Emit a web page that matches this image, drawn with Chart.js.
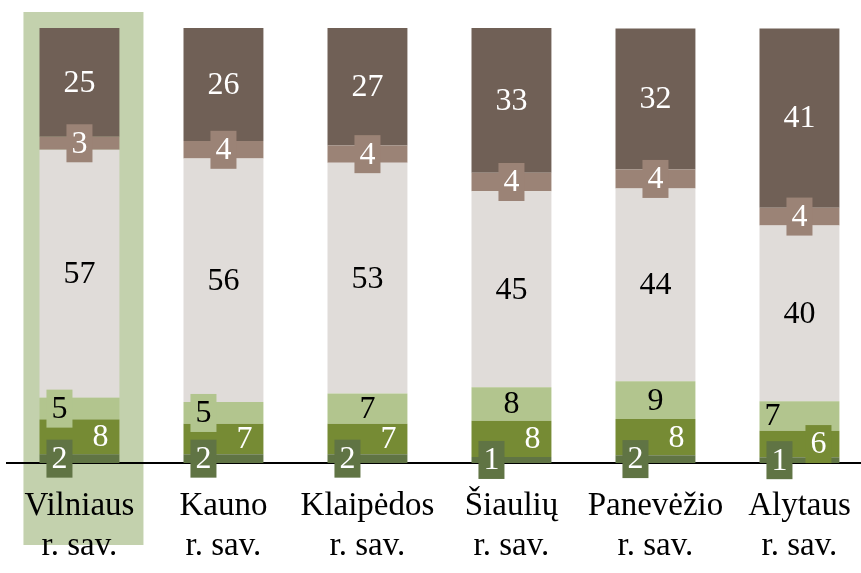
<!DOCTYPE html>
<html>
<head>
<meta charset="utf-8">
<script src="https://cdn.jsdelivr.net/npm/chart.js@4.4.1/dist/chart.umd.min.js"></script>
<style>
  html, body { margin: 0; padding: 0; background: #fff; overflow: hidden; }
  #wrap { width: 875px; height: 573px; }
</style>
</head>
<body>
<div id="wrap"><canvas id="myChart" width="875" height="573"></canvas></div>
<script>
// categories (two-line tick labels)
const categories = [
  ['Vilniaus', 'r. sav.'],
  ['Kauno', 'r. sav.'],
  ['Klaipėdos', 'r. sav.'],
  ['Šiaulių', 'r. sav.'],
  ['Panevėžio', 'r. sav.'],
  ['Alytaus', 'r. sav.']
];

// series (percent), bottom to top; labels show them rounded
const seriesA = [2, 2, 2, 1.4, 1.8, 1.3];         // dark green
const seriesB = [8, 7, 7, 8.3, 8.3, 6.1];         // olive
const seriesC = [5, 5, 7, 7.7, 8.7, 6.8];         // light green
const seriesD = [57, 56, 53, 45.1, 44.3, 40.4];   // light grey
const seriesE = [3, 4, 4, 4.2, 4.4, 4.1];         // taupe
const seriesF = [25, 26, 27, 33.3, 32.4, 41.2];   // dark brown

const highlightIndex = 0;

// label style per dataset: text colour, horizontal shift, when to draw a box
const labelStyle = [
  { color: '#fff', dx: -20, box: () => true },
  { color: '#fff', dx: 21, box: v => v <= 6, boxDx: 19 },
  { color: '#000', dx: 0, box: v => v <= 6, boxDx: -20 },
  { color: '#000', dx: 0, box: () => false },
  { color: '#fff', dx: 0, box: () => true },
  { color: '#fff', dx: 0, box: () => false }
];

const highlight = {
  id: 'highlight',
  beforeDraw(chart) {
    const {ctx, chartArea, scales} = chart;
    const x = scales.x.getPixelForValue(highlightIndex);
    ctx.save();
    ctx.fillStyle = '#C3D1AD';
    ctx.fillRect(x - 56, chartArea.top - 16, 120, chartArea.bottom - chartArea.top + 98);
    ctx.restore();
  }
};

const segLabels = {
  id: 'segLabels',
  afterDatasetsDraw(chart) {
    const ctx = chart.ctx;
    ctx.save();
    ctx.font = '32px "Liberation Serif", serif';
    ctx.textAlign = 'center';
    ctx.textBaseline = 'middle';
    chart.data.datasets.forEach((ds, di) => {
      const st = labelStyle[di];
      chart.getDatasetMeta(di).data.forEach((bar, i) => {
        const v = Math.round(ds.data[i]);
        const cy = (bar.y + bar.base) / 2;
        let cx = bar.x + st.dx;
        if (st.box(v)) {
          if (st.boxDx !== undefined) cx = bar.x + st.boxDx;
          ctx.fillStyle = ds.backgroundColor;
          ctx.fillRect(cx - 13, cy - 19, 26, 38);
        }
        // light green label moves left when the olive label below is boxed
        if (di === 2 && !st.box(v) && labelStyle[1].box(Math.round(chart.data.datasets[1].data[i]))) cx = bar.x - 27;
        ctx.fillStyle = st.color;
        ctx.fillText(String(v), cx, cy + 1);
      });
    });
    ctx.restore();
  }
};

new Chart(document.getElementById('myChart').getContext('2d'), {
  type: 'bar',
  data: {
    labels: categories,
    datasets: [
      { data: seriesA, backgroundColor: '#607444' },
      { data: seriesB, backgroundColor: '#768B34' },
      { data: seriesC, backgroundColor: '#B2C58E' },
      { data: seriesD, backgroundColor: '#E0DCD9' },
      { data: seriesE, backgroundColor: '#9B8376' },
      { data: seriesF, backgroundColor: '#706056' }
    ]
  },
  options: {
    responsive: false,
    animation: false,
    layout: { padding: { left: 7, right: 3, top: 28, bottom: 0 } },
    datasets: { bar: { categoryPercentage: 1, barPercentage: 0.555, borderWidth: 0 } },
    plugins: { legend: { display: false }, tooltip: { enabled: false } },
    scales: {
      x: {
        stacked: true,
        afterFit: scale => { scale.height = 110; },
        grid: { display: false, drawTicks: false },
        border: { display: true, color: '#000', width: 2 },
        ticks: {
          color: '#000',
          padding: 24,
          maxRotation: 0,
          font: { family: '"Liberation Serif", serif', size: 33, lineHeight: 1.2 }
        }
      },
      y: { stacked: true, display: false, min: 0, max: 100 }
    }
  },
  plugins: [highlight, segLabels]
});
</script>
</body>
</html>
